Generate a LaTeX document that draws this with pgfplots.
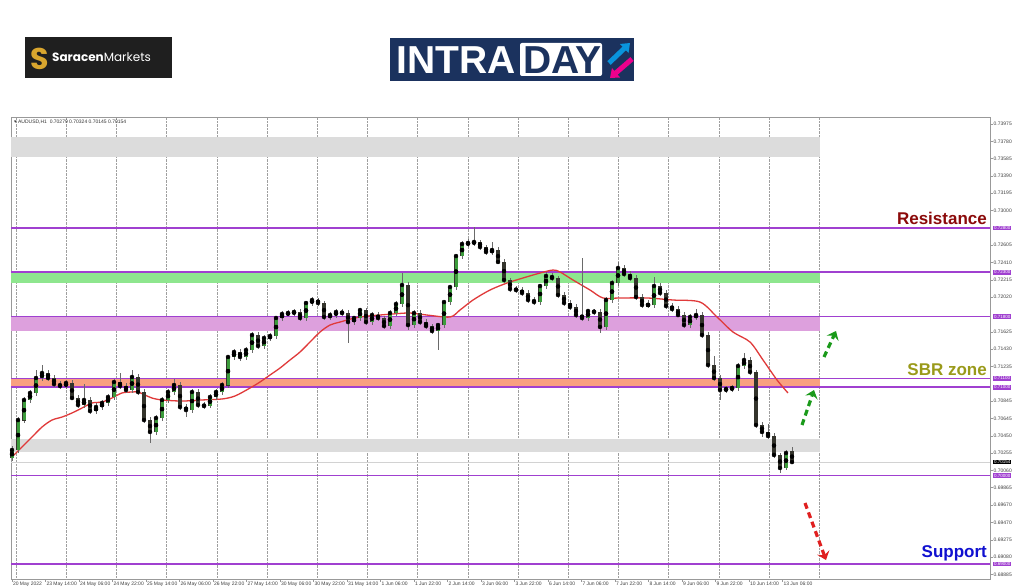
\documentclass[border=0pt]{standalone}
\usepackage{pgfplots}
\pgfplotsset{compat=1.18}
\usepackage{pgfplotstable}
\usepackage{fontspec}
\setmainfont{Liberation Sans}
\newfontfamily\poppins{Poppins}
\newfontfamily\dejavu{DejaVu Sans}
\usetikzlibrary{arrows.meta}

\definecolor{lvl}{HTML}{A040D0}
\definecolor{zgreen}{HTML}{8EE68E}
\definecolor{zpink}{HTML}{DDA0DD}
\definecolor{zsalmon}{HTML}{F9A080}
\definecolor{zgrey}{HTML}{DCDCDC}
\definecolor{ma}{HTML}{E03A3A}
\definecolor{bull}{HTML}{3C9C3C}
\definecolor{bear}{HTML}{34342C}
\definecolor{wick}{HTML}{6A6A6A}
\definecolor{navy}{HTML}{1B325E}
\definecolor{gold}{HTML}{D9A62E}
\definecolor{resred}{HTML}{8B0A0A}
\definecolor{sbr}{HTML}{9A9A1A}
\definecolor{supblue}{HTML}{1010D0}
\definecolor{arrgreen}{HTML}{1A9A1A}
\definecolor{arrred}{HTML}{E02020}

% AUDUSD H1 candles (x = bar position)
\pgfplotstableread{
x o h l c
12 0.70200 0.70330 0.70170 0.70290
18 0.70290 0.70660 0.70260 0.70629
24 0.70629 0.70890 0.70600 0.70856
30 0.70856 0.70970 0.70820 0.70935
36 0.70935 0.71200 0.70900 0.71104
42 0.71104 0.71250 0.71070 0.71161
48 0.71161 0.71200 0.71070 0.71104
54 0.71104 0.71140 0.71000 0.71036
60 0.71036 0.71070 0.70980 0.71014
66 0.71014 0.71080 0.70980 0.71048
72 0.71048 0.71080 0.70850 0.70878
78 0.70878 0.70910 0.70770 0.70799
84 0.70799 0.71036 0.70770 0.70856
90 0.70856 0.70890 0.70700 0.70731
96 0.70731 0.70820 0.70700 0.70776
102 0.70776 0.70860 0.70740 0.70822
108 0.70822 0.70920 0.70790 0.70889
114 0.70889 0.71090 0.70860 0.71059
120 0.71059 0.71160 0.70980 0.71014
126 0.71014 0.71050 0.70940 0.70969
132 0.70969 0.71190 0.70940 0.71116
138 0.71116 0.71150 0.70910 0.70946
144 0.70946 0.70980 0.70600 0.70629
150 0.70629 0.70660 0.70370 0.70494
156 0.70494 0.70690 0.70460 0.70652
162 0.70652 0.70890 0.70620 0.70856
168 0.70856 0.70980 0.70820 0.70946
174 0.70946 0.71090 0.70910 0.71025
180 0.71025 0.71060 0.70740 0.70776
186 0.70776 0.70810 0.70660 0.70742
192 0.70742 0.70980 0.70710 0.70946
198 0.70946 0.70980 0.70770 0.70799
204 0.70799 0.70830 0.70750 0.70788
210 0.70788 0.70920 0.70760 0.70889
216 0.70889 0.70980 0.70860 0.70946
222 0.70946 0.71060 0.70910 0.71025
228 0.71025 0.71370 0.70990 0.71342
234 0.71342 0.71430 0.71310 0.71398
240 0.71398 0.71430 0.71300 0.71342
246 0.71342 0.71450 0.71310 0.71421
252 0.71421 0.71620 0.71390 0.71590
258 0.71590 0.71620 0.71430 0.71466
264 0.71466 0.71590 0.71430 0.71556
270 0.71556 0.71610 0.71520 0.71579
276 0.71579 0.71810 0.71550 0.71783
282 0.71783 0.71860 0.71750 0.71828
288 0.71828 0.71870 0.71800 0.71839
294 0.71839 0.71880 0.71800 0.71850
300 0.71850 0.71880 0.71750 0.71783
306 0.71783 0.71980 0.71750 0.71952
312 0.71952 0.72020 0.71920 0.71986
318 0.71986 0.72010 0.71920 0.71952
324 0.71952 0.71980 0.71760 0.71794
330 0.71794 0.71850 0.71760 0.71816
336 0.71816 0.71880 0.71780 0.71850
342 0.71850 0.71880 0.71800 0.71839
348 0.71839 0.71870 0.71500 0.71737
354 0.71737 0.71810 0.71700 0.71783
360 0.71783 0.71900 0.71750 0.71873
366 0.71873 0.71900 0.71700 0.71737
372 0.71737 0.71850 0.71700 0.71816
378 0.71816 0.71850 0.71750 0.71783
384 0.71783 0.71810 0.71660 0.71692
390 0.71692 0.71870 0.71660 0.71839
396 0.71839 0.71970 0.71810 0.71941
402 0.71941 0.72291 0.71910 0.72156
408 0.72156 0.72190 0.71647 0.71703
414 0.71703 0.71870 0.71670 0.71839
420 0.71839 0.71870 0.71700 0.71737
426 0.71737 0.71770 0.71660 0.71692
432 0.71692 0.71720 0.71600 0.71636
438 0.71636 0.71730 0.71421 0.71703
444 0.71703 0.71990 0.71670 0.71963
450 0.71963 0.72160 0.71930 0.72133
456 0.72133 0.72510 0.72100 0.72483
462 0.72483 0.72650 0.72450 0.72619
468 0.72619 0.72680 0.72590 0.72630
474 0.72630 0.72811 0.72600 0.72642
480 0.72642 0.72670 0.72550 0.72585
486 0.72585 0.72610 0.72500 0.72529
492 0.72529 0.72640 0.72500 0.72551
498 0.72551 0.72580 0.72390 0.72416
504 0.72416 0.72450 0.72180 0.72212
510 0.72212 0.72240 0.72080 0.72110
516 0.72110 0.72150 0.72060 0.72099
522 0.72099 0.72130 0.72030 0.72065
528 0.72065 0.72100 0.71950 0.71986
534 0.71986 0.72020 0.71930 0.71963
540 0.71963 0.72170 0.71930 0.72144
546 0.72144 0.72300 0.72110 0.72257
552 0.72257 0.72290 0.72200 0.72235
558 0.72235 0.72260 0.72010 0.72043
564 0.72043 0.72080 0.71920 0.71952
570 0.71952 0.71990 0.71870 0.71907
576 0.71907 0.71940 0.71780 0.71816
582 0.71816 0.72461 0.71750 0.71783
588 0.71783 0.71890 0.71750 0.71862
594 0.71862 0.71890 0.71820 0.71850
600 0.71850 0.71880 0.71613 0.71681
606 0.71681 0.72020 0.71650 0.71986
612 0.71986 0.72210 0.71950 0.72178
618 0.72178 0.72416 0.72150 0.72348
624 0.72348 0.72380 0.72250 0.72280
630 0.72280 0.72310 0.72200 0.72235
636 0.72235 0.72270 0.71990 0.72020
642 0.72020 0.72050 0.71900 0.71930
648 0.71930 0.71990 0.71900 0.71930
654 0.71930 0.72250 0.71900 0.72144
660 0.72144 0.72180 0.72030 0.72065
666 0.72065 0.72100 0.71890 0.71918
672 0.71918 0.71950 0.71850 0.71884
678 0.71884 0.71920 0.71790 0.71816
684 0.71816 0.71850 0.71670 0.71703
690 0.71703 0.71830 0.71670 0.71794
696 0.71794 0.71880 0.71760 0.71816
702 0.71816 0.71850 0.71560 0.71590
708 0.71590 0.71620 0.71220 0.71251
714 0.71251 0.71350 0.71070 0.71104
720 0.71104 0.71140 0.70856 0.70969
726 0.70969 0.71010 0.70930 0.70980
732 0.70980 0.71030 0.70950 0.70991
738 0.70991 0.71270 0.70960 0.71240
744 0.71240 0.71390 0.71210 0.71308
750 0.71308 0.71340 0.71140 0.71172
756 0.71172 0.71200 0.70540 0.70573
762 0.70573 0.70610 0.70440 0.70494
768 0.70494 0.70580 0.70420 0.70449
774 0.70449 0.70480 0.70200 0.70234
780 0.70234 0.70260 0.70030 0.70087
786 0.70087 0.70290 0.70060 0.70256
792 0.70279 0.70324 0.70145 0.70154
}\candles

\begin{document}
\begin{tikzpicture}[x=1pt,y=1pt]
\useasboundingbox (0,0) rectangle (1024,587);
\fill[white] (0,0) rectangle (1024,587);

% logos
\fill[black!88] (25,509) rectangle (172,550);
\node[text=gold, font=\poppins\bfseries\fontsize{30}{30}\selectfont] at (40,528) {S};
\node[anchor=west, text=white, font=\poppins\fontsize{12}{12}\selectfont, inner sep=0pt] at (52,529.5) {\bfseries Saracen\mdseries Markets};

\fill[navy] (390,506) rectangle (634,549);
\node[anchor=west, text=white, font=\bfseries\fontsize{39}{39}\selectfont, inner sep=0pt] at (396,527) {INTRA};
\fill[white, rounded corners=2pt] (520,511) rectangle (602,544);
\node[anchor=west, text=navy, font=\bfseries\fontsize{39}{39}\selectfont, inner sep=0pt] at (523,527) {DAY};
\draw[cyan!80!blue, line width=5pt, -{Triangle[width=12pt,length=8pt]}] (609,524) -- (630,544);
\draw[magenta, line width=5pt, -{Triangle[width=12pt,length=8pt]}] (632,528) -- (610,509);

\begin{axis}[
  at={(11pt,8pt)}, anchor=south west,
  scale only axis, width=979pt, height=462pt,
  xmin=11, xmax=990, ymin=0.68832, ymax=0.74055,
  clip=false,
  axis line style={draw=gray!80, line width=0.6pt},
  tick align=outside, major tick length=2.5pt,
  tick style={gray!80, line width=0.5pt},
  xtick pos=bottom, ytick pos=right, yticklabel pos=right,
  xtick={12,45.5,79,112.5,146,179.5,213,246.5,280,313.5,347,380.5,414,447.5,481,514.5,548,581.5,615,648.5,682,715.5,749,782.5},
  xticklabels={20 May 2022,23 May 14:00,24 May 06:00,24 May 22:00,25 May 14:00,26 May 06:00,26 May 22:00,27 May 14:00,30 May 06:00,30 May 22:00,31 May 14:00,1 Jun 06:00,1 Jun 22:00,2 Jun 14:00,3 Jun 06:00,3 Jun 22:00,6 Jun 14:00,7 Jun 06:00,7 Jun 22:00,8 Jun 14:00,9 Jun 06:00,9 Jun 22:00,10 Jun 14:00,13 Jun 06:00},
  xticklabel style={anchor=north west, inner sep=0.8pt, text=black!75, font=\fontsize{5}{6}\selectfont},
  ytick={0.73975,0.73780,0.73585,0.73390,0.73195,0.73000,0.72605,0.72410,0.72215,0.72020,0.71625,0.71430,0.71235,0.70845,0.70645,0.70450,0.70255,0.70060,0.69865,0.69670,0.69470,0.69275,0.69080,0.68885},
  scaled y ticks=false,
  yticklabel style={anchor=west, inner sep=1pt, text=black!75, font=\fontsize{5}{6}\selectfont,
    /pgf/number format/.cd, fixed, fixed zerofill, precision=5, assume math mode=true},
  extra x ticks={16,66.2,116.4,166.6,216.8,267,317.2,367.4,417.6,467.8,518,568.2,618.4,668.6,718.8,769,819.2},
  extra x tick labels={},
  extra x tick style={grid=major, major grid style={gray!75, densely dotted, line width=0.6pt}, major tick length=0pt},
]
% zones
\addplot[fill=zgrey, draw=none] coordinates {(11,0.73829) (820,0.73829) (820,0.73603) (11,0.73603)} -- cycle;
\addplot[fill=zgreen, draw=none] coordinates {(11,0.72300) (820,0.72300) (820,0.72175) (11,0.72175)} -- cycle;
\addplot[fill=zpink, draw=none] coordinates {(11,0.71800) (820,0.71800) (820,0.71639) (11,0.71639)} -- cycle;
\addplot[fill=zsalmon, draw=none] coordinates {(11,0.71100) (820,0.71100) (820,0.71000) (11,0.71000)} -- cycle;
\addplot[fill=zgrey, draw=none] coordinates {(11,0.70415) (820,0.70415) (820,0.70271) (11,0.70271)} -- cycle;
% bid line
\addplot[gray!35, line width=0.6pt] coordinates {(11,0.70154) (990,0.70154)};
% levels
\pgfplotsinvokeforeach{0.72800,0.72300,0.71800,0.71100,0.71000,0.70000,0.69000}{
  \addplot[lvl, line width=1.6pt] coordinates {(11,#1) (990,#1)};
}
% moving average
\addplot[ma, line width=1.3pt, smooth] coordinates {
(12,0.70211)(22,0.70324)(32,0.70437)(42,0.70550)(52,0.70629)(62,0.70663)(72,0.70709)(82,0.70765)
(92,0.70822)(102,0.70833)(112,0.70878)(122,0.70935)(132,0.70946)(138,0.70946)(145,0.70912)(152,0.70878)
(162,0.70856)(182,0.70844)(202,0.70856)(222,0.70867)(235,0.70901)(250,0.70991)(260,0.71059)(270,0.71138)
(280,0.71217)(290,0.71308)(300,0.71398)(310,0.71511)(320,0.71624)(330,0.71703)(340,0.71737)(360,0.71794)
(393,0.71828)(410,0.71839)(427,0.71816)(450,0.71794)(460,0.71873)(473,0.71986)(490,0.72099)(507,0.72178)
(523,0.72235)(540,0.72291)(553,0.72325)(560,0.72303)(573,0.72212)(590,0.72099)(603,0.72009)(620,0.72009)
(647,0.72009)(673,0.71986)(700,0.71963)(717,0.71794)(733,0.71624)(750,0.71511)(763,0.71308)(777,0.71082)
(788,0.70935)};
% wicks
\addplot[only marks, mark=none, error bars/.cd, y dir=both, y explicit, error mark=none,
  error bar style={line width=0.8pt, draw=wick}]
  table[x=x, y=c, y error plus expr={\thisrow{h}-\thisrow{c}}, y error minus expr={\thisrow{c}-\thisrow{l}}] {\candles};
% body outlines
\addplot[only marks, mark=none, error bars/.cd, y dir=both, y explicit, error mark=none,
  error bar style={line width=4.2pt, draw=bear}]
  table[x=x, y expr={(\thisrow{o}+\thisrow{c})/2}, y error expr={abs(\thisrow{c}-\thisrow{o})/2+0.00004}] {\candles};
% bull bodies
\addplot[only marks, mark=none, restrict expr to domain={\thisrow{c}-\thisrow{o}}{0:1},
  error bars/.cd, y dir=both, y explicit, error mark=none,
  error bar style={line width=3pt, draw=bull}]
  table[x=x, y expr={(\thisrow{o}+\thisrow{c})/2}, y error expr={abs(\thisrow{c}-\thisrow{o})/2}] {\candles};

% price boxes
\pgfplotsinvokeforeach{0.72800,0.72300,0.71800,0.71100,0.71000,0.70000,0.69000}{
  \node[anchor=west, fill=lvl, text=white, font=\fontsize{4.5}{5}\selectfont, inner xsep=1pt, inner ysep=0.7pt, xshift=3pt]
    at (axis cs:990,#1) {#1};
}
\node[anchor=west, fill=black, text=white, font=\fontsize{4.5}{5}\selectfont, inner xsep=1pt, inner ysep=0.7pt, xshift=3pt]
  at (axis cs:990,0.70154) {0.70154};
\end{axis}

% chart header
\node[anchor=west, font=\fontsize{5}{6}\selectfont, text=black!80, inner sep=0pt] at (14,465) {{\dejavu ▾} AUDUSD,H1 \ 0.70279 0.70324 0.70145 0.70154};

% annotations
\node[anchor=east, text=resred, font=\bfseries\fontsize{17}{17}\selectfont, inner sep=0pt] at (987,369) {Resistance};
\node[anchor=east, text=sbr, font=\bfseries\fontsize{17}{17}\selectfont, inner sep=0pt] at (987,217) {SBR zone};
\node[anchor=east, text=supblue, font=\bfseries\fontsize{17}{17}\selectfont, inner sep=0pt] at (987,34) {Support};

\draw[arrgreen, line width=3.2pt, dash pattern=on 6pt off 4pt, -{Stealth[width=13pt,length=8pt,inset=3pt]}] (802,162) -- (814,197);
\draw[arrgreen, line width=3.2pt, dash pattern=on 6pt off 4pt, -{Stealth[width=13pt,length=8pt,inset=3pt]}] (824,230) -- (836,256);
\draw[arrred, line width=3.2pt, dash pattern=on 6pt off 4pt, -{Stealth[width=13pt,length=8pt,inset=3pt]}] (805,84) -- (826,27);
\end{tikzpicture}
\end{document}
